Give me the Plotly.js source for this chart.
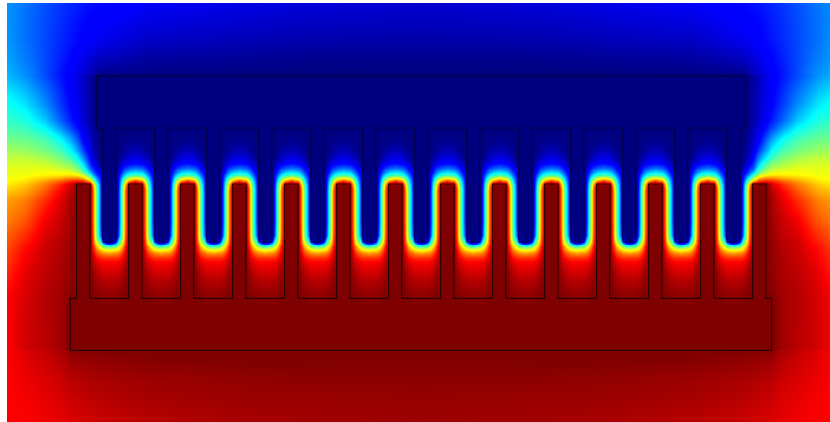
<!DOCTYPE html>
<html>
<head>
<meta charset="utf-8">
<script src="https://cdn.plot.ly/plotly-3.0.1.min.js"></script>
<style>html,body{margin:0;padding:0;background:#fff}</style>
</head>
<body>
<div id="chart" style="width:830px;height:422px"></div>
<script>
// Field colour scale (rainbow): 0 = upper electrode, 1 = lower electrode
var fieldScale = [[0,'#00007f'],[0.11,'#0000ff'],[0.125,'#0000ff'],[0.35,'#00ffff'],[0.5,'#7dff7a'],[0.65,'#ffff00'],[0.89,'#ff0000'],[1,'#7f0000']];

// --- Region above the upper electrode ---
var topX = [7,30,60,85,100,150,300,421];
var topY = [3,20,40,60,75];
var topZ = [
 [.255,.22,.17,.14,.13,.105,.08,.07],
 [.255,.215,.165,.125,.115,.085,.06,.055],
 [.26,.215,.16,.115,.095,.06,.04,.035],
 [.27,.225,.15,.085,.05,.025,.012,.01],
 [.29,.24,.14,.065,.01,.002,0,0]
];

// --- Region under the lower electrode ---
var botX = [7,30,50,65,70,100,150,250,421];
var botY = [350,360,380,400,422];
var botZ = [
 [.89,.925,.95,.97,.995,1,1,1,1],
 [.89,.92,.94,.96,.975,.985,.995,1,.998],
 [.89,.91,.925,.94,.95,.965,.975,.985,.99],
 [.89,.90,.915,.925,.935,.95,.965,.975,.98],
 [.89,.895,.905,.915,.92,.935,.95,.965,.975]
];

// --- Main region: rows of the finger zone ---
var midY = [75,90,105,120,128,140,150,158,163,168,172,175,178,181,184,187,191,200,220,235,238,240,242,243.5,245,247,250,253,258,262,270,280,290,298,310,325,340,350];

// open field left of the electrodes, at outerX
var outerX = [7,25,45,60,70,76.6];
var outerZ = [
 [.29,.25,.19,.14,.11,.09],
 [.33,.29,.22,.16,.115,.09],
 [.37,.33,.25,.175,.125,.095],
 [.41,.38,.30,.21,.15,.11],
 [.44,.42,.35,.26,.19,.14],
 [.49,.48,.44,.36,.28,.21],
 [.54,.53,.49,.43,.35,.27],
 [.58,.58,.55,.50,.43,.35],
 [.60,.60,.59,.54,.50,.42],
 [.62,.62,.62,.59,.56,.50],
 [.625,.63,.64,.64,.62,.58],
 [.63,.64,.66,.67,.68,.66],
 [.64,.66,.70,.73,.76,.76],
 [.65,.675,.74,.80,.85,.87],
 [.66,.70,.77,.85,.92,1],
 [.68,.715,.79,.87,.93,1],
 [.70,.73,.81,.89,.945,1],
 [.74,.77,.85,.915,.96,1],
 [.77,.81,.90,.935,.97,1],
 [.80,.85,.92,.945,.975,1],
 [.805,.855,.925,.948,.977,1],
 [.81,.86,.927,.95,.978,1],
 [.812,.865,.93,.952,.979,1],
 [.814,.87,.93,.953,.98,1],
 [.816,.875,.932,.954,.98,1],
 [.82,.88,.933,.955,.98,1],
 [.825,.885,.935,.955,.98,1],
 [.83,.89,.937,.957,.982,1],
 [.835,.895,.94,.958,.983,1],
 [.84,.90,.942,.96,.984,1],
 [.85,.91,.945,.962,.985,1],
 [.865,.917,.95,.965,.987,1],
 [.88,.922,.953,.968,.99,1],
 [.89,.925,.955,.97,1,1],
 [.89,.927,.955,.97,1,1],
 [.89,.93,.953,.97,1,1],
 [.89,.93,.95,.97,1,1],
 [.89,.93,.95,.97,1,1]
];

// open-air rows between the first lower finger and the first upper finger
var edgeZ = [
 [.06,.03,.015,0,0,0,0,0],
 [.06,.03,.015,0,0,0,0,0],
 [.065,.035,.015,0,0,0,0,0],
 [.07,.035,.015,0,0,0,0,0],
 [.09,.05,.025,.005,0,0,0,0],
 [.12,.065,.035,.015,.003,0,0,0],
 [.18,.09,.05,.025,.006,0,0,0],
 [.25,.12,.07,.035,.012,0,0,0],
 [.31,.155,.10,.06,.03,0,0,0],
 [.38,.20,.15,.10,.06,0,0,0],
 [.48,.28,.20,.14,.09,.005,0,0],
 [.60,.40,.27,.19,.12,.01,0,0],
 [.72,.55,.38,.26,.14,.01,0,0],
 [.85,.72,.52,.34,.16,.01,0,0]
];

// one half period: from lower-finger centre to upper-finger centre
var cellOffsets = [0,6.6,9.8,13.05,16.3,19.5,23,26];
var cellZ = [
 [0,0,0,0,0,0,0,0],
 [0,0,0,0,0,0,0,0],
 [0,0,0,0,0,0,0,0],
 [0,0,0,0,0,0,0,0],
 [0,0,0,0,0,0,0,0],
 [.012,.008,.005,.003,.001,0,0,0],
 [.045,.035,.025,.012,.004,0,0,0],
 [.09,.08,.06,.035,.014,0,0,0],
 [.13,.115,.095,.07,.035,0,0,0],
 [.22,.20,.17,.13,.07,0,0,0],
 [.33,.30,.25,.18,.10,.005,0,0],
 [.44,.40,.33,.24,.13,.01,0,0],
 [.65,.58,.46,.31,.15,.01,0,0],
 [.85,.76,.60,.38,.17,.01,0,0],
 [1,.95,.70,.44,.19,.01,0,0],
 [1,1,.75,.48,.20,.005,0,0],
 [1,1,.78,.50,.21,0,0,0],
 [1,1,.78,.50,.21,0,0,0],
 [1,1,.78,.50,.21,0,0,0],
 [1,1,.79,.52,.24,.02,0,0],
 [1,1,.80,.55,.30,.05,0,0],
 [1,1,.81,.58,.36,.10,.01,0],
 [1,1,.82,.62,.43,.18,.04,.02],
 [1,1,.83,.66,.50,.31,.16,.12],
 [1,1,.85,.70,.56,.42,.34,.30],
 [1,1,.87,.74,.63,.54,.50,.47],
 [1,1,.89,.79,.71,.67,.65,.64],
 [1,1,.91,.84,.78,.76,.75,.74],
 [1,1,.935,.89,.86,.85,.85,.85],
 [1,1,.95,.92,.90,.895,.89,.89],
 [1,1,.97,.95,.93,.92,.92,.92],
 [1,1,.985,.97,.96,.955,.95,.95],
 [1,1,.995,.985,.98,.98,.975,.975],
 [1,1,1,1,.995,.99,.99,.99],
 [1,1,1,1,1,1,1,1],
 [1,1,1,1,1,1,1,1],
 [1,1,1,1,1,1,1,1],
 [1,1,1,1,1,1,1,1]
];

// --- Electrode geometry ---
var lowerFingerLefts = [76.6,128.6,180.6,232.6,284.6,336.6,388.6,440.6,492.6,544.6,596.6,648.6,700.6,752.6];
var lowerFingerWidth = 13.2, lowerTipY = 184, lowerRootY = 298.3;
var lowerBase = {left:70.3, right:771.6, bottom:350.3};
var upperFingerLefts = [102.8,154.8,206.8,258.8,310.8,362.8,414.8,466.8,518.8,570.8,622.8,674.8,726.8];
var upperFingerWidth = 12.9, upperTipY = 242, upperRootY = 128;
var upperBase = {left:96.3, right:745.8, top:75.7};

var firstCentre = 83.2, period = 52, periodCount = 13, mirrorAxis = 842.4;

// assemble columns of the main region
function cellRow(row, c){
  var xs = [], zs = [], i;
  for (i = cellOffsets.length - 2; i > 0; i--) { xs.push(c - cellOffsets[i]); zs.push(row[i]); }
  for (i = 0; i < cellOffsets.length; i++) { xs.push(c + cellOffsets[i]); zs.push(row[i]); }
  return {x: xs, z: zs};
}
var midX = [], midZ = [];
midY.forEach(function(y, r){
  var xs = outerX.slice(), zs = outerZ[r].slice();
  var edge = edgeZ[r] || cellZ[r];
  cellOffsets.forEach(function(o, i){ xs.push(firstCentre + o); zs.push(edge[i]); });
  for (var k = 1; k < periodCount; k++) {
    var cell = cellRow(cellZ[r], firstCentre + k * period);
    xs = xs.concat(cell.x); zs = zs.concat(cell.z);
  }
  for (var j = xs.length - 1, n = xs.length; j >= 0; j--) {
    var mx = mirrorAxis - xs[j];
    if (mx > xs[n - 1] + 0.01) { xs.push(mx); zs.push(zs[j]); }
  }
  midX = xs; midZ.push(zs);
});
var midYEdge = [midY[0] - 0.1].concat(midY, [midY[midY.length - 1] + 0.1]);
var midZEdge = [midZ[0]].concat(midZ, [midZ[midZ.length - 1]]);

function mirrorX(xs){ var out = xs.slice(); for (var i = xs.length - 2; i >= 0; i--) out.push(mirrorAxis - xs[i]); return out; }
function mirrorZ(zs){ return zs.map(function(r){ var out = r.slice(); for (var i = r.length - 2; i >= 0; i--) out.push(r[i]); return out; }); }

function field(x, y, z){
  return {type:'heatmap', x:x, y:y, z:z, zmin:0, zmax:1, zsmooth:'best', colorscale:fieldScale, showscale:false, hoverinfo:'skip'};
}

// outlines
var lx = [lowerBase.left, lowerBase.left], ly = [lowerBase.bottom, lowerRootY];
lowerFingerLefts.forEach(function(l){
  lx.push(l, l, l + lowerFingerWidth, l + lowerFingerWidth);
  ly.push(lowerRootY, lowerTipY, lowerTipY, lowerRootY);
});
lx.push(lowerBase.right, lowerBase.right, lowerBase.left);
ly.push(lowerRootY, lowerBase.bottom, lowerBase.bottom);

var ux = [upperBase.left, upperBase.left], uy = [upperBase.top, upperRootY];
upperFingerLefts.forEach(function(l){
  ux.push(l, l, l + upperFingerWidth, l + upperFingerWidth);
  uy.push(upperRootY, upperTipY, upperTipY, upperRootY);
});
ux.push(upperBase.right, upperBase.right, upperBase.left);
uy.push(upperRootY, upperBase.top, upperBase.top);

function outline(x, y, color){
  return {type:'scatter', mode:'lines', x:x, y:y, line:{color:color, width:1.2}, hoverinfo:'skip', showlegend:false};
}

var traces = [
  field(mirrorX(topX), topY, mirrorZ(topZ)),
  field(mirrorX(botX), botY, mirrorZ(botZ)),
  field(midX, midYEdge, midZEdge),
  outline(lx, ly, 'rgba(30,0,0,0.85)'),
  outline(ux, uy, 'rgba(0,0,40,0.7)')
];

var layout = {
  width:830, height:422,
  margin:{l:7, r:0, t:3, b:0, pad:0},
  paper_bgcolor:'#ffffff', plot_bgcolor:'#ffffff',
  showlegend:false,
  xaxis:{range:[7,830], visible:false, fixedrange:true},
  yaxis:{range:[422,3], visible:false, fixedrange:true}
};
Plotly.newPlot('chart', traces, layout, {displayModeBar:false, staticPlot:true});
</script>
</body>
</html>
